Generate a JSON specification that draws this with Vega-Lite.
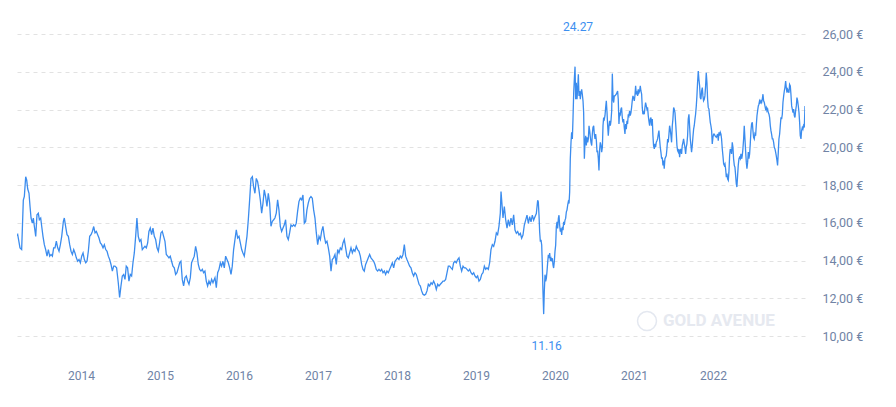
{
"$schema": "https://vega.github.io/schema/vega-lite/v6.json",
"width": 788, "height": 302,
"autosize": {"type": "none"},
"padding": {"left": 17, "top": 34, "right": 91, "bottom": 71},
"background": "white",
"config": {"view": {"stroke": null}, "font": "Roboto",
"axisX": {"grid": false, "domain": false, "ticks": false, "labelPadding": 34, "labelFontSize": 12, "labelColor": "#7083a5", "labelFont": "Roboto", "title": null},
"axisY": {"domain": false, "ticks": false, "grid": true, "gridDash": [4,4], "gridColor": "#e2e2e2", "gridWidth": 1, "labelPadding": 17, "labelFontSize": 12.5, "labelColor": "#7083a5", "labelFont": "Roboto", "labelOverlap": false, "title": null}},
"datasets": {
"prices": [
{"year":2013.19,"eur":15.3},{"year":2013.199,"eur":15.37},{"year":2013.228,"eur":14.67},{"year":2013.249,"eur":14.58},{"year":2013.270,"eur":17.2},{"year":2013.283,"eur":17.4},{"year":2013.300,"eur":18.44},{"year":2013.313,"eur":18.26},{"year":2013.325,"eur":17.8},{"year":2013.342,"eur":17.56},{"year":2013.355,"eur":16.86},{"year":2013.368,"eur":16.25},{"year":2013.384,"eur":15.98},{"year":2013.397,"eur":16.25},{"year":2013.410,"eur":15.8},{"year":2013.427,"eur":15.28},{"year":2013.443,"eur":16.42},{"year":2013.460,"eur":16.5},{"year":2013.473,"eur":16.16},{"year":2013.490,"eur":16.25},{"year":2013.503,"eur":15.8},{"year":2013.519,"eur":15.28},{"year":2013.536,"eur":14.84},{"year":2013.553,"eur":14.58},{"year":2013.570,"eur":14.23},{"year":2013.587,"eur":14.58},{"year":2013.604,"eur":14.23},{"year":2013.621,"eur":14.32},{"year":2013.638,"eur":14.23},{"year":2013.654,"eur":14.67},{"year":2013.671,"eur":14.67},{"year":2013.688,"eur":15.02},{"year":2013.705,"eur":14.67},{"year":2013.722,"eur":14.49},{"year":2013.739,"eur":14.84},{"year":2013.756,"eur":15.28},{"year":2013.777,"eur":16.07},{"year":2013.789,"eur":16.25},{"year":2013.806,"eur":15.8},{"year":2013.823,"eur":15.37},{"year":2013.840,"eur":15.28},{"year":2013.857,"eur":14.84},{"year":2013.874,"eur":14.49},{"year":2013.891,"eur":14.32},{"year":2013.908,"eur":14.58},{"year":2013.924,"eur":14.4},{"year":2013.941,"eur":14.14},{"year":2013.958,"eur":13.96},{"year":2013.975,"eur":14.05},{"year":2013.992,"eur":13.88},{"year":2014.009,"eur":14.23},{"year":2014.026,"eur":14.4},{"year":2014.043,"eur":14.05},{"year":2014.060,"eur":13.88},{"year":2014.076,"eur":13.96},{"year":2014.093,"eur":14.49},{"year":2014.110,"eur":15.28},{"year":2014.127,"eur":15.37},{"year":2014.144,"eur":15.54},{"year":2014.161,"eur":15.8},{"year":2014.178,"eur":15.46},{"year":2014.195,"eur":15.54},{"year":2014.211,"eur":15.37},{"year":2014.228,"eur":15.19},{"year":2014.245,"eur":14.93},{"year":2014.262,"eur":14.84},{"year":2014.279,"eur":14.67},{"year":2014.296,"eur":14.84},{"year":2014.313,"eur":14.58},{"year":2014.330,"eur":14.49},{"year":2014.346,"eur":14.23},{"year":2014.363,"eur":14.05},{"year":2014.380,"eur":13.79},{"year":2014.397,"eur":13.44},{"year":2014.414,"eur":13.7},
{"year":2014.430,"eur":13.7},{"year":2014.451,"eur":13.61},{"year":2014.472,"eur":12.82},{"year":2014.489,"eur":12.04},{"year":2014.506,"eur":12.65},{"year":2014.523,"eur":13.18},{"year":2014.540,"eur":13.26},{"year":2014.557,"eur":13.0},{"year":2014.573,"eur":13.7},{"year":2014.590,"eur":13.61},{"year":2014.607,"eur":12.91},{"year":2014.624,"eur":13.26},{"year":2014.641,"eur":13.18},{"year":2014.658,"eur":13.88},{"year":2014.675,"eur":14.4},{"year":2014.692,"eur":15.28},{"year":2014.708,"eur":16.25},{"year":2014.725,"eur":15.28},{"year":2014.742,"eur":15.02},{"year":2014.759,"eur":15.11},{"year":2014.776,"eur":14.58},{"year":2014.793,"eur":14.67},{"year":2014.810,"eur":14.75},{"year":2014.827,"eur":14.67},{"year":2014.844,"eur":14.93},{"year":2014.860,"eur":15.54},{"year":2014.877,"eur":15.72},{"year":2014.894,"eur":15.37},{"year":2014.911,"eur":15.72},{"year":2014.928,"eur":15.28},{"year":2014.945,"eur":15.11},{"year":2014.962,"eur":14.67},{"year":2014.979,"eur":14.49},{"year":2014.995,"eur":14.93},{"year":2015.012,"eur":15.46},{"year":2015.029,"eur":15.54},{"year":2015.046,"eur":15.28},{"year":2015.063,"eur":15.02},{"year":2015.080,"eur":14.32},{"year":2015.097,"eur":14.23},{"year":2015.114,"eur":14.14},{"year":2015.130,"eur":14.23},{"year":2015.147,"eur":13.96},{"year":2015.164,"eur":13.7},{"year":2015.181,"eur":13.61},{"year":2015.198,"eur":13.26},{"year":2015.215,"eur":13.35},{"year":2015.232,"eur":13.61},{"year":2015.249,"eur":13.88},{"year":2015.265,"eur":13.96},{"year":2015.282,"eur":13.0},{"year":2015.299,"eur":12.65},{"year":2015.316,"eur":13.09},{"year":2015.333,"eur":13.18},{"year":2015.350,"eur":12.91},{"year":2015.367,"eur":12.74},{"year":2015.384,"eur":13.09},{"year":2015.400,"eur":13.88},{"year":2015.417,"eur":14.05},{"year":2015.434,"eur":14.23},{"year":2015.451,"eur":14.75},{"year":2015.468,"eur":14.4},{"year":2015.485,"eur":13.79},{"year":2015.502,"eur":13.53},{"year":2015.519,"eur":13.44},{"year":2015.536,"eur":13.53},{"year":2015.552,"eur":13.35},{"year":2015.569,"eur":13.44},{"year":2015.586,"eur":12.91},{"year":2015.603,"eur":12.65},{"year":2015.620,"eur":12.91},{"year":2015.637,"eur":12.74},{"year":2015.654,"eur":13.0},{"year":2015.671,"eur":12.82},{"year":2015.687,"eur":13.0},
{"year":2015.696,"eur":13.09},{"year":2015.713,"eur":12.56},{"year":2015.730,"eur":13.35},{"year":2015.747,"eur":13.53},{"year":2015.764,"eur":13.88},{"year":2015.780,"eur":13.7},{"year":2015.797,"eur":13.96},{"year":2015.814,"eur":13.61},{"year":2015.831,"eur":14.23},{"year":2015.848,"eur":14.05},{"year":2015.865,"eur":13.88},{"year":2015.882,"eur":13.61},{"year":2015.899,"eur":13.26},{"year":2015.915,"eur":13.7},{"year":2015.932,"eur":14.58},{"year":2015.949,"eur":15.11},{"year":2015.966,"eur":15.63},{"year":2015.983,"eur":15.19},{"year":2016.000,"eur":15.28},{"year":2016.017,"eur":14.93},{"year":2016.034,"eur":14.58},{"year":2016.050,"eur":14.4},{"year":2016.067,"eur":14.23},{"year":2016.084,"eur":14.75},{"year":2016.101,"eur":15.28},{"year":2016.118,"eur":16.16},{"year":2016.135,"eur":17.21},{"year":2016.152,"eur":18.35},{"year":2016.169,"eur":18.44},{"year":2016.185,"eur":17.91},{"year":2016.202,"eur":17.56},{"year":2016.219,"eur":18.35},{"year":2016.236,"eur":18.18},{"year":2016.253,"eur":17.74},{"year":2016.270,"eur":17.21},{"year":2016.287,"eur":16.51},{"year":2016.304,"eur":17.04},{"year":2016.320,"eur":17.74},{"year":2016.337,"eur":17.39},{"year":2016.354,"eur":16.86},{"year":2016.371,"eur":17.56},{"year":2016.388,"eur":17.04},{"year":2016.405,"eur":15.81},{"year":2016.422,"eur":16.07},{"year":2016.439,"eur":16.16},{"year":2016.455,"eur":16.25},{"year":2016.472,"eur":16.51},{"year":2016.489,"eur":17.21},{"year":2016.506,"eur":16.68},{"year":2016.523,"eur":15.81},{"year":2016.540,"eur":15.54},{"year":2016.557,"eur":15.72},{"year":2016.574,"eur":15.89},{"year":2016.590,"eur":16.16},{"year":2016.607,"eur":15.28},{"year":2016.624,"eur":15.11},{"year":2016.641,"eur":15.46},{"year":2016.658,"eur":15.89},{"year":2016.675,"eur":15.81},{"year":2016.692,"eur":15.89},{"year":2016.709,"eur":15.81},{"year":2016.725,"eur":15.98},{"year":2016.742,"eur":16.6},{"year":2016.759,"eur":17.12},{"year":2016.776,"eur":17.3},{"year":2016.793,"eur":17.21},{"year":2016.810,"eur":17.47},{"year":2016.827,"eur":15.98},{"year":2016.844,"eur":16.07},{"year":2016.860,"eur":16.68},{"year":2016.877,"eur":17.04},{"year":2016.894,"eur":17.3},{"year":2016.911,"eur":17.39},{"year":2016.928,"eur":17.3},{"year":2016.945,"eur":16.68},
{"year":2016.962,"eur":16.25},{"year":2016.979,"eur":15.46},{"year":2016.996,"eur":14.84},{"year":2017.013,"eur":15.28},{"year":2017.030,"eur":15.11},{"year":2017.046,"eur":15.54},{"year":2017.063,"eur":15.81},{"year":2017.080,"eur":15.28},{"year":2017.097,"eur":14.93},{"year":2017.114,"eur":15.02},{"year":2017.131,"eur":14.67},{"year":2017.148,"eur":14.23},{"year":2017.165,"eur":13.44},{"year":2017.181,"eur":14.05},{"year":2017.198,"eur":14.14},{"year":2017.215,"eur":14.32},{"year":2017.232,"eur":13.79},{"year":2017.249,"eur":14.58},{"year":2017.266,"eur":14.4},{"year":2017.283,"eur":14.67},{"year":2017.300,"eur":14.58},{"year":2017.316,"eur":14.93},{"year":2017.333,"eur":15.11},{"year":2017.350,"eur":14.67},{"year":2017.367,"eur":14.23},{"year":2017.384,"eur":14.14},{"year":2017.401,"eur":14.4},{"year":2017.418,"eur":14.67},{"year":2017.435,"eur":14.4},{"year":2017.451,"eur":14.58},{"year":2017.468,"eur":14.49},{"year":2017.485,"eur":14.75},{"year":2017.502,"eur":14.58},{"year":2017.519,"eur":14.49},{"year":2017.536,"eur":14.23},{"year":2017.553,"eur":13.79},{"year":2017.570,"eur":13.53},{"year":2017.586,"eur":13.44},{"year":2017.603,"eur":13.79},{"year":2017.620,"eur":13.96},{"year":2017.637,"eur":14.14},{"year":2017.654,"eur":14.32},{"year":2017.671,"eur":14.14},{"year":2017.688,"eur":14.05},{"year":2017.705,"eur":13.96},{"year":2017.721,"eur":13.79},{"year":2017.738,"eur":13.53},{"year":2017.755,"eur":13.44},{"year":2017.772,"eur":13.53},{"year":2017.789,"eur":13.44},{"year":2017.806,"eur":13.53},{"year":2017.823,"eur":13.35},{"year":2017.840,"eur":13.44},{"year":2017.856,"eur":13.26},{"year":2017.873,"eur":13.44},{"year":2017.890,"eur":13.35},{"year":2017.907,"eur":13.53},{"year":2017.924,"eur":13.7},{"year":2017.941,"eur":13.88},{"year":2017.958,"eur":13.61},{"year":2017.975,"eur":13.96},{"year":2017.991,"eur":14.05},{"year":2018.008,"eur":14.14},{"year":2018.025,"eur":14.05},{"year":2018.042,"eur":14.23},{"year":2018.059,"eur":14.14},{"year":2018.076,"eur":14.32},{"year":2018.093,"eur":14.84},{"year":2018.110,"eur":14.23},{"year":2018.126,"eur":14.05},{"year":2018.143,"eur":13.88},{"year":2018.160,"eur":13.7},{"year":2018.177,"eur":13.61},{"year":2018.194,"eur":13.35},{"year":2018.211,"eur":13.18},
{"year":2018.228,"eur":13.35},{"year":2018.245,"eur":13.26},{"year":2018.262,"eur":13.0},{"year":2018.279,"eur":12.74},{"year":2018.296,"eur":12.65},{"year":2018.312,"eur":12.39},{"year":2018.329,"eur":12.21},{"year":2018.346,"eur":12.16},{"year":2018.363,"eur":12.21},{"year":2018.380,"eur":12.39},{"year":2018.397,"eur":12.74},{"year":2018.414,"eur":12.65},{"year":2018.431,"eur":12.82},{"year":2018.447,"eur":12.74},{"year":2018.464,"eur":12.91},{"year":2018.481,"eur":12.74},{"year":2018.498,"eur":12.47},{"year":2018.515,"eur":12.74},{"year":2018.532,"eur":12.65},{"year":2018.549,"eur":12.74},{"year":2018.566,"eur":12.82},{"year":2018.582,"eur":12.91},{"year":2018.599,"eur":12.91},{"year":2018.616,"eur":13.0},{"year":2018.633,"eur":13.35},{"year":2018.650,"eur":13.7},{"year":2018.667,"eur":13.7},{"year":2018.684,"eur":13.61},{"year":2018.701,"eur":13.53},{"year":2018.717,"eur":13.88},{"year":2018.734,"eur":13.96},{"year":2018.751,"eur":13.88},{"year":2018.768,"eur":14.05},{"year":2018.785,"eur":14.14},{"year":2018.802,"eur":13.7},{"year":2018.819,"eur":13.44},{"year":2018.836,"eur":13.7},{"year":2018.852,"eur":13.61},{"year":2018.869,"eur":13.61},{"year":2018.886,"eur":13.53},{"year":2018.903,"eur":13.44},{"year":2018.920,"eur":13.53},{"year":2018.937,"eur":13.35},{"year":2018.954,"eur":13.26},{"year":2018.971,"eur":13.35},{"year":2018.987,"eur":13.18},{"year":2019.004,"eur":13.09},{"year":2019.021,"eur":13.18},{"year":2019.038,"eur":12.91},{"year":2019.055,"eur":13.0},{"year":2019.072,"eur":13.26},{"year":2019.089,"eur":13.35},{"year":2019.106,"eur":13.7},{"year":2019.123,"eur":13.53},{"year":2019.139,"eur":13.61},{"year":2019.156,"eur":13.53},{"year":2019.173,"eur":13.88},{"year":2019.190,"eur":14.58},{"year":2019.207,"eur":14.84},{"year":2019.224,"eur":14.75},{"year":2019.241,"eur":15.02},{"year":2019.258,"eur":15.46},{"year":2019.274,"eur":15.37},{"year":2019.291,"eur":15.81},{"year":2019.308,"eur":16.51},{"year":2019.317,"eur":17.65},{"year":2019.325,"eur":17.21},{"year":2019.342,"eur":16.25},{"year":2019.359,"eur":16.86},{"year":2019.376,"eur":16.16},{"year":2019.393,"eur":15.72},{"year":2019.409,"eur":16.16},{"year":2019.426,"eur":15.81},{"year":2019.443,"eur":16.25},{"year":2019.460,"eur":15.89},{"year":2019.477,"eur":16.42},
{"year":2019.494,"eur":15.61},{"year":2019.511,"eur":15.44},{"year":2019.528,"eur":15.53},{"year":2019.545,"eur":15.35},{"year":2019.562,"eur":15.44},{"year":2019.578,"eur":15.18},{"year":2019.595,"eur":15.35},{"year":2019.612,"eur":15.88},{"year":2019.629,"eur":16.14},{"year":2019.646,"eur":16.40},{"year":2019.663,"eur":15.96},{"year":2019.680,"eur":16.32},{"year":2019.697,"eur":16.05},{"year":2019.713,"eur":16.40},{"year":2019.730,"eur":16.14},{"year":2019.747,"eur":16.32},{"year":2019.764,"eur":16.49},{"year":2019.781,"eur":17.19},{"year":2019.789,"eur":17.11},{"year":2019.798,"eur":16.40},{"year":2019.806,"eur":15.53},{"year":2019.815,"eur":15.0},{"year":2019.823,"eur":15.09},{"year":2019.832,"eur":14.82},{"year":2019.840,"eur":13.77},{"year":2019.848,"eur":12.37},{"year":2019.857,"eur":11.16},{"year":2019.865,"eur":12.37},{"year":2019.874,"eur":13.25},{"year":2019.882,"eur":12.89},{"year":2019.891,"eur":13.07},{"year":2019.899,"eur":13.42},{"year":2019.907,"eur":13.86},{"year":2019.916,"eur":14.30},{"year":2019.924,"eur":14.12},{"year":2019.933,"eur":14.39},{"year":2019.941,"eur":14.04},{"year":2019.950,"eur":14.12},{"year":2019.958,"eur":13.95},{"year":2019.967,"eur":14.12},{"year":2019.975,"eur":13.77},{"year":2019.983,"eur":13.60},{"year":2019.992,"eur":13.95},{"year":2020.000,"eur":14.47},{"year":2020.009,"eur":14.82},{"year":2020.017,"eur":15.79},{"year":2020.026,"eur":16.05},{"year":2020.034,"eur":15.70},{"year":2020.043,"eur":16.23},{"year":2020.051,"eur":16.40},{"year":2020.059,"eur":15.88},{"year":2020.068,"eur":15.53},{"year":2020.076,"eur":15.70},{"year":2020.085,"eur":15.35},{"year":2020.093,"eur":15.79},{"year":2020.102,"eur":15.61},{"year":2020.110,"eur":16.05},{"year":2020.118,"eur":15.88},{"year":2020.127,"eur":16.14},{"year":2020.135,"eur":16.23},{"year":2020.144,"eur":16.58},{"year":2020.152,"eur":16.67},{"year":2020.161,"eur":16.93},{"year":2020.169,"eur":17.11},{"year":2020.178,"eur":17.02},{"year":2020.186,"eur":17.63},{"year":2020.194,"eur":19.39},{"year":2020.203,"eur":20.26},{"year":2020.211,"eur":20.79},{"year":2020.220,"eur":20.44},{"year":2020.228,"eur":21.49},{"year":2020.237,"eur":22.89},{"year":2020.245,"eur":23.60},{"year":2020.254,"eur":24.27},{"year":2020.262,"eur":22.54},{"year":2020.270,"eur":23.42},{"year":2020.279,"eur":22.54},{"year":2020.287,"eur":23.07},{"year":2020.296,"eur":23.86},{"year":2020.304,"eur":22.72},{"year":2020.313,"eur":22.98},{"year":2020.321,"eur":22.54},{"year":2020.329,"eur":22.89},{"year":2020.338,"eur":23.07},{"year":2020.346,"eur":22.81},{"year":2020.355,"eur":22.46},{"year":2020.363,"eur":21.84},{"year":2020.372,"eur":19.39},{"year":2020.380,"eur":20.26},{"year":2020.389,"eur":20.61},{"year":2020.397,"eur":20.09},{"year":2020.405,"eur":20.53},{"year":2020.414,"eur":20.26},{"year":2020.422,"eur":20.44},{"year":2020.431,"eur":21.14},{"year":2020.439,"eur":20.88},{"year":2020.448,"eur":20.53},{"year":2020.456,"eur":20.26},{"year":2020.465,"eur":20.09},{"year":2020.473,"eur":20.70},{"year":2020.481,"eur":21.05},{"year":2020.490,"eur":21.14},{"year":2020.498,"eur":20.70},{"year":2020.507,"eur":20.44},{"year":2020.515,"eur":20.70},{"year":2020.524,"eur":20.35},{"year":2020.532,"eur":19.74},{"year":2020.540,"eur":19.82},{"year":2020.549,"eur":19.39},{"year":2020.557,"eur":18.77},{"year":2020.566,"eur":19.91},{"year":2020.574,"eur":20.26},{"year":2020.583,"eur":20.09},{"year":2020.591,"eur":19.74},{"year":2020.600,"eur":20.0},{"year":2020.608,"eur":21.14},{"year":2020.616,"eur":21.58},{"year":2020.625,"eur":21.49},{"year":2020.633,"eur":21.67},{"year":2020.642,"eur":22.11},{"year":2020.650,"eur":22.46},{"year":2020.659,"eur":21.84},{"year":2020.667,"eur":21.14},{"year":2020.675,"eur":20.61},{"year":2020.684,"eur":21.14},{"year":2020.692,"eur":21.40},{"year":2020.701,"eur":21.14},{"year":2020.709,"eur":21.40},{"year":2020.718,"eur":21.93},{"year":2020.726,"eur":23.9},{"year":2020.735,"eur":22.54},{"year":2020.743,"eur":22.37},{"year":2020.751,"eur":22.72},
{"year":2020.759,"eur":22.72},{"year":2020.776,"eur":22.81},{"year":2020.793,"eur":22.98},{"year":2020.801,"eur":22.54},{"year":2020.810,"eur":21.23},{"year":2020.818,"eur":21.84},{"year":2020.827,"eur":21.75},{"year":2020.835,"eur":22.02},{"year":2020.843,"eur":22.11},{"year":2020.852,"eur":21.58},{"year":2020.860,"eur":21.32},{"year":2020.869,"eur":21.49},{"year":2020.877,"eur":21.05},{"year":2020.886,"eur":20.70},{"year":2020.894,"eur":21.23},{"year":2020.903,"eur":20.96},{"year":2020.911,"eur":21.40},{"year":2020.919,"eur":21.23},{"year":2020.928,"eur":21.75},{"year":2020.936,"eur":21.67},{"year":2020.945,"eur":21.93},{"year":2020.953,"eur":21.67},{"year":2020.962,"eur":21.84},{"year":2020.970,"eur":22.11},{"year":2020.978,"eur":22.46},{"year":2020.987,"eur":22.72},{"year":2020.995,"eur":22.63},{"year":2021.004,"eur":22.46},{"year":2021.012,"eur":22.72},{"year":2021.021,"eur":23.25},{"year":2021.029,"eur":22.81},{"year":2021.037,"eur":22.89},{"year":2021.046,"eur":22.72},{"year":2021.054,"eur":23.07},{"year":2021.063,"eur":22.89},{"year":2021.071,"eur":22.98},{"year":2021.080,"eur":23.25},{"year":2021.088,"eur":22.98},{"year":2021.097,"eur":22.81},{"year":2021.105,"eur":22.11},{"year":2021.113,"eur":21.75},{"year":2021.122,"eur":21.84},{"year":2021.130,"eur":21.75},{"year":2021.139,"eur":22.11},{"year":2021.147,"eur":22.37},{"year":2021.156,"eur":22.19},{"year":2021.164,"eur":22.02},{"year":2021.172,"eur":22.11},{"year":2021.181,"eur":21.67},{"year":2021.189,"eur":21.40},{"year":2021.198,"eur":21.14},{"year":2021.206,"eur":21.49},{"year":2021.215,"eur":21.58},{"year":2021.223,"eur":21.14},{"year":2021.232,"eur":21.49},{"year":2021.240,"eur":20.61},{"year":2021.248,"eur":20.09},{"year":2021.257,"eur":19.91},{"year":2021.265,"eur":20.18},{"year":2021.274,"eur":20.0},{"year":2021.282,"eur":20.26},{"year":2021.291,"eur":20.35},{"year":2021.299,"eur":20.44},{"year":2021.308,"eur":20.70},{"year":2021.316,"eur":20.88},{"year":2021.324,"eur":20.44},{"year":2021.333,"eur":20.0},{"year":2021.341,"eur":19.74},{"year":2021.350,"eur":19.39},{"year":2021.358,"eur":19.47},{"year":2021.367,"eur":19.04},{"year":2021.375,"eur":19.30},{"year":2021.383,"eur":18.86},{"year":2021.392,"eur":19.39},{"year":2021.400,"eur":19.47},{"year":2021.409,"eur":19.56},{"year":2021.417,"eur":19.91},{"year":2021.426,"eur":20.44},{"year":2021.434,"eur":20.26},{"year":2021.443,"eur":20.70},{"year":2021.451,"eur":21.14},{"year":2021.459,"eur":20.96},{"year":2021.468,"eur":20.61},{"year":2021.476,"eur":20.26},{"year":2021.485,"eur":21.14},{"year":2021.493,"eur":21.49},{"year":2021.502,"eur":22.11},{"year":2021.510,"eur":22.02},{"year":2021.519,"eur":21.84},{"year":2021.527,"eur":21.32},{"year":2021.535,"eur":20.79},{"year":2021.544,"eur":20.09},{"year":2021.552,"eur":19.82},{"year":2021.561,"eur":19.74},{"year":2021.569,"eur":19.91},{"year":2021.578,"eur":19.47},{"year":2021.586,"eur":19.82},{"year":2021.594,"eur":19.91},{"year":2021.603,"eur":19.65},{"year":2021.611,"eur":20.09},{"year":2021.620,"eur":20.26},{"year":2021.628,"eur":20.44},{"year":2021.637,"eur":20.18},{"year":2021.645,"eur":20.0},{"year":2021.654,"eur":19.65},{"year":2021.662,"eur":20.0},{"year":2021.670,"eur":20.18},{"year":2021.679,"eur":20.61},{"year":2021.687,"eur":21.49},{"year":2021.696,"eur":21.75},{"year":2021.704,"eur":21.14},{"year":2021.713,"eur":20.44},{"year":2021.721,"eur":20.09},{"year":2021.729,"eur":19.74},{"year":2021.738,"eur":20.09},{"year":2021.746,"eur":20.53},{"year":2021.755,"eur":20.96},{"year":2021.763,"eur":21.14},{"year":2021.772,"eur":21.49},{"year":2021.780,"eur":21.75},{"year":2021.789,"eur":22.19},{"year":2021.797,"eur":22.72},{"year":2021.805,"eur":23.42},{"year":2021.814,"eur":24.04},{"year":2021.822,"eur":23.60},{"year":2021.831,"eur":23.25},{"year":2021.839,"eur":22.63},{"year":2021.848,"eur":22.54},{"year":2021.856,"eur":22.98},{"year":2021.865,"eur":23.16},{"year":2021.873,"eur":22.72},{"year":2021.881,"eur":22.46},{"year":2021.890,"eur":22.54},{"year":2021.898,"eur":22.72},{"year":2021.907,"eur":23.25},{"year":2021.915,"eur":23.95},{"year":2021.924,"eur":23.42},{"year":2021.932,"eur":22.54},{"year":2021.940,"eur":22.11},{"year":2021.949,"eur":22.02},{"year":2021.957,"eur":21.67},{"year":2021.966,"eur":21.32},{"year":2021.974,"eur":21.14},{"year":2021.983,"eur":20.88},{"year":2021.991,"eur":20.18},{"year":2022.000,"eur":20.53},{"year":2022.008,"eur":20.70},{"year":2022.017,"eur":20.70},
{"year":2022.025,"eur":20.61},{"year":2022.042,"eur":20.53},{"year":2022.059,"eur":20.70},{"year":2022.067,"eur":20.35},{"year":2022.076,"eur":20.79},{"year":2022.084,"eur":20.61},{"year":2022.093,"eur":20.79},{"year":2022.101,"eur":20.70},{"year":2022.109,"eur":20.44},{"year":2022.118,"eur":19.91},{"year":2022.126,"eur":19.56},{"year":2022.135,"eur":19.12},{"year":2022.143,"eur":19.04},{"year":2022.152,"eur":19.12},{"year":2022.160,"eur":18.86},{"year":2022.169,"eur":18.42},{"year":2022.177,"eur":18.60},{"year":2022.185,"eur":18.33},{"year":2022.194,"eur":18.25},{"year":2022.202,"eur":18.68},{"year":2022.211,"eur":19.56},{"year":2022.219,"eur":19.91},{"year":2022.228,"eur":19.82},{"year":2022.236,"eur":19.65},{"year":2022.244,"eur":20.26},{"year":2022.253,"eur":20.0},{"year":2022.261,"eur":19.39},{"year":2022.270,"eur":19.04},{"year":2022.278,"eur":18.95},{"year":2022.287,"eur":18.51},{"year":2022.295,"eur":18.07},{"year":2022.303,"eur":17.89},{"year":2022.312,"eur":18.51},{"year":2022.320,"eur":19.04},{"year":2022.329,"eur":19.39},{"year":2022.337,"eur":19.47},{"year":2022.346,"eur":19.39},{"year":2022.354,"eur":19.65},{"year":2022.363,"eur":19.39},{"year":2022.371,"eur":19.56},{"year":2022.379,"eur":19.91},{"year":2022.388,"eur":20.44},{"year":2022.396,"eur":21.14},{"year":2022.405,"eur":20.44},{"year":2022.413,"eur":19.82},{"year":2022.422,"eur":19.21},{"year":2022.430,"eur":18.86},{"year":2022.439,"eur":19.21},{"year":2022.447,"eur":19.74},{"year":2022.455,"eur":19.39},{"year":2022.464,"eur":19.65},{"year":2022.472,"eur":20.18},{"year":2022.481,"eur":20.88},{"year":2022.489,"eur":21.23},{"year":2022.498,"eur":21.32},{"year":2022.506,"eur":20.88},{"year":2022.514,"eur":20.53},{"year":2022.523,"eur":20.44},{"year":2022.531,"eur":20.70},{"year":2022.540,"eur":20.61},{"year":2022.548,"eur":21.14},{"year":2022.557,"eur":21.67},{"year":2022.565,"eur":21.93},{"year":2022.574,"eur":22.19},{"year":2022.582,"eur":22.28},{"year":2022.590,"eur":22.46},{"year":2022.599,"eur":22.37},{"year":2022.607,"eur":22.46},{"year":2022.616,"eur":22.37},{"year":2022.624,"eur":22.54},{"year":2022.633,"eur":22.81},{"year":2022.641,"eur":22.46},{"year":2022.650,"eur":22.37},{"year":2022.658,"eur":22.19},{"year":2022.666,"eur":22.02},{"year":2022.675,"eur":22.11},{"year":2022.683,"eur":21.93},{"year":2022.692,"eur":22.02},{"year":2022.700,"eur":21.84},{"year":2022.709,"eur":21.75},{"year":2022.717,"eur":21.58},{"year":2022.726,"eur":21.14},{"year":2022.734,"eur":20.88},{"year":2022.742,"eur":20.70},{"year":2022.751,"eur":20.44},{"year":2022.759,"eur":20.44},{"year":2022.768,"eur":20.26},{"year":2022.776,"eur":20.0},{"year":2022.785,"eur":19.91},{"year":2022.793,"eur":19.74},{"year":2022.801,"eur":19.56},{"year":2022.810,"eur":19.30},{"year":2022.818,"eur":19.04},{"year":2022.827,"eur":19.74},{"year":2022.835,"eur":20.44},{"year":2022.844,"eur":20.70},{"year":2022.852,"eur":21.14},{"year":2022.861,"eur":21.58},{"year":2022.869,"eur":21.49},{"year":2022.878,"eur":21.75},{"year":2022.886,"eur":22.37},{"year":2022.895,"eur":22.72},{"year":2022.903,"eur":22.98},{"year":2022.911,"eur":23.16},{"year":2022.920,"eur":23.51},{"year":2022.928,"eur":23.16},{"year":2022.937,"eur":22.89},{"year":2022.945,"eur":23.07},{"year":2022.954,"eur":22.98},{"year":2022.962,"eur":22.89},{"year":2022.970,"eur":23.33},{"year":2022.979,"eur":23.25},{"year":2022.987,"eur":22.81},{"year":2022.996,"eur":22.19},{"year":2023.004,"eur":22.02},{"year":2023.013,"eur":21.84},{"year":2023.021,"eur":22.02},{"year":2023.030,"eur":21.67},{"year":2023.038,"eur":21.58},{"year":2023.046,"eur":21.93},{"year":2023.055,"eur":22.19},{"year":2023.063,"eur":22.63},{"year":2023.072,"eur":22.46},{"year":2023.080,"eur":22.19},{"year":2023.089,"eur":21.84},{"year":2023.097,"eur":21.32},{"year":2023.105,"eur":20.61},{"year":2023.114,"eur":20.44},{"year":2023.122,"eur":20.88},{"year":2023.131,"eur":21.05},{"year":2023.139,"eur":20.96},{"year":2023.148,"eur":21.14},{"year":2023.156,"eur":21.05},{"year":2023.165,"eur":22.19}
],
"extremes": [
{"year":2020.254,"eur":24.27,"label":"24.27","kind":"max"},
{"year":2019.857,"eur":11.16,"label":"11.16","kind":"min"}
]
},
"encoding": {
"x": {"type": "quantitative",
"scale": {"domain": [2013.19, 2023.165], "nice": false, "zero": false},
"axis": {"values": [2014,2015,2016,2017,2018,2019,2020,2021,2022], "format": "d", "title": null}},
"y": {"type": "quantitative",
"scale": {"domain": [10, 26], "nice": false, "zero": false},
"axis": {"orient": "right", "values": [10,12,14,16,18,20,22,24,26], "labelExpr": "replace(format(datum.value, '.2f'), '.', ',') + ' €'", "title": null}}
},
"layer": [
{
"data": {"values": [{}]},
"mark": {"type": "text", "text": "GOLD AVENUE", "color": "#e6e9f0", "fontSize": 17, "font": "Roboto", "fontWeight": "bold", "align": "left", "baseline": "middle"},
"encoding": {
"x": {"datum": 2021.367},
"y": {"datum": 10.79}
}
},
{
"data": {"values": [{}]},
"mark": {"type": "point", "shape": "circle", "filled": false, "stroke": "#e4e8f0", "strokeWidth": 1.5, "size": 360, "opacity": 1},
"encoding": {
"x": {"datum": 2021.165},
"y": {"datum": 10.79}
}
},
{
"data": {"name": "prices"},
"mark": {"type": "line", "color": "#3b8cee", "strokeWidth": 1.3, "clip": true},
"encoding": {
"x": {"field": "year"},
"y": {"field": "eur"}
}
},
{
"data": {"name": "extremes"},
"transform": [{"filter": "datum.kind == 'max'"}],
"mark": {"type": "text", "color": "#3d8ff0", "fontSize": 12, "font": "Roboto", "dx": 3, "dy": -40, "baseline": "middle", "align": "center"},
"encoding": {
"x": {"field": "year"},
"y": {"field": "eur"},
"text": {"field": "label"}
}
},
{
"data": {"name": "extremes"},
"transform": [{"filter": "datum.kind == 'min'"}],
"mark": {"type": "text", "color": "#3d8ff0", "fontSize": 12, "font": "Roboto", "dx": 3, "dy": 32, "baseline": "middle", "align": "center"},
"encoding": {
"x": {"field": "year"},
"y": {"field": "eur"},
"text": {"field": "label"}
}
}
]
}
